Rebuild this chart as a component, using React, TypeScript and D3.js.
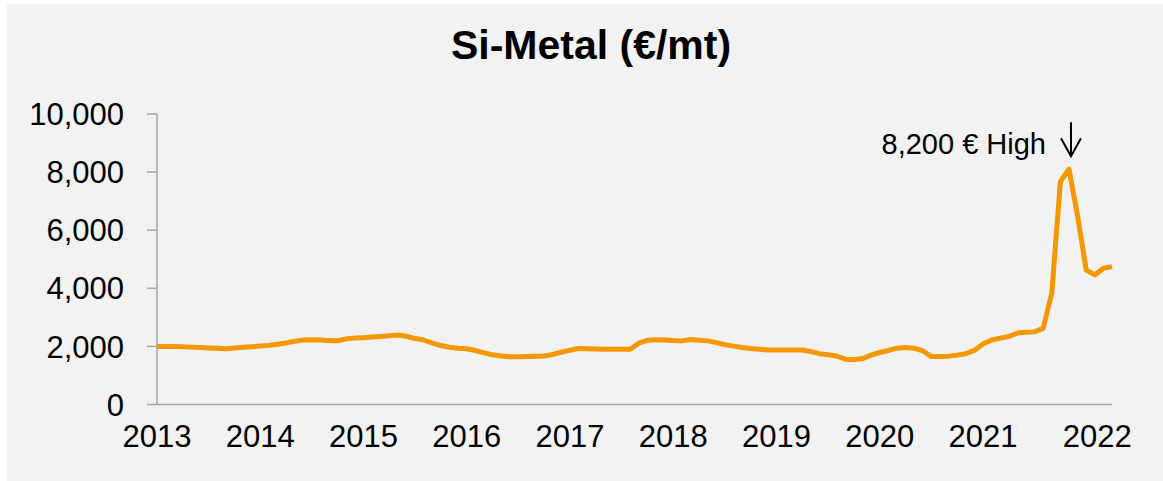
import React, { useEffect, useRef } from 'react';
import * as d3 from 'd3';

// monthly Si-Metal price, Jan 2013 .. Apr 2022 (€/mt)
const years = ['2013', '2014', '2015', '2016', '2017', '2018', '2019', '2020', '2021', '2022'];
const yTicks = [0, 2000, 4000, 6000, 8000, 10000];
const prices = [
  2000, 2000, 1995, 1990, 1975, 1960, 1945, 1935, 1920, 1945, 1970, 1990,
  2010, 2035, 2075, 2120, 2175, 2220, 2225, 2220, 2205, 2195, 2260, 2285,
  2300, 2320, 2340, 2365, 2390, 2350, 2270, 2220, 2110, 2030, 1970, 1940,
  1920, 1860, 1780, 1710, 1670, 1645, 1645, 1655, 1660, 1670, 1720, 1800,
  1870, 1930, 1920, 1910, 1905, 1900, 1900, 1900, 2110, 2210, 2225, 2220,
  2200, 2190, 2240, 2215, 2190, 2130, 2060, 2010, 1960, 1925, 1900, 1880,
  1875, 1875, 1875, 1875, 1820, 1750, 1710, 1670, 1560, 1540, 1580, 1700,
  1790, 1860, 1940, 1960, 1940, 1850, 1650, 1655, 1665, 1700, 1750, 1860,
  2080, 2220, 2280, 2340, 2460, 2490, 2500, 2620, 3830, 7670, 8100, 6500,
  4630, 4460, 4690, 4745
];
const title = 'Si-Metal (€/mt)';
const highLabel = '8,200 € High';

export default function App() {
  const ref = useRef<SVGSVGElement>(null);

  useEffect(() => {
    const w = 1163;
    const h = 481;
    const left = 157;
    const right = 1112;
    const top = 114;
    const bottom = 404.5;
    const font = 'Liberation Sans, Arial, sans-serif';
    const svg = d3.select(ref.current);
    svg.selectAll('*').remove();

    // background panel
    svg.append('rect')
      .attr('x', 7).attr('y', 4)
      .attr('width', w - 7).attr('height', h - 4)
      .attr('fill', '#f2f2f2');

    svg.append('text')
      .attr('x', 591).attr('y', 59)
      .attr('text-anchor', 'middle')
      .style('font-family', font)
      .style('font-size', '41px')
      .style('font-weight', 'bold')
      .text(title);

    const x = d3.scaleLinear().domain([0, prices.length - 1]).range([left, right]);
    const y = d3.scaleLinear().domain([0, 10000]).range([bottom, top]);

    // y axis
    const yAxis = svg.append('g');
    yAxis.append('line')
      .attr('x1', left).attr('x2', left)
      .attr('y1', top).attr('y2', bottom)
      .attr('stroke', '#a6a6a6').attr('stroke-width', 1.5);
    const yt = yAxis.selectAll('g').data(yTicks).enter().append('g');
    yt.append('line')
      .attr('x1', left - 10).attr('x2', left)
      .attr('y1', d => y(d)).attr('y2', d => y(d))
      .attr('stroke', '#a6a6a6').attr('stroke-width', 1.5);
    yt.append('text')
      .attr('x', 124)
      .attr('y', d => y(d))
      .attr('dy', '0.36em')
      .attr('text-anchor', 'end')
      .style('font-family', font)
      .style('font-size', '31px')
      .text(d => d3.format(',')(d));

    // x axis
    svg.append('line')
      .attr('x1', left).attr('x2', right)
      .attr('y1', bottom).attr('y2', bottom)
      .attr('stroke', '#a6a6a6').attr('stroke-width', 1.5);
    svg.append('g').selectAll('text')
      .data(years).enter().append('text')
      .attr('x', (d, i) => x(i * 12) + (i === years.length - 1 ? 11 : 0))
      .attr('y', 447)
      .attr('text-anchor', 'middle')
      .style('font-family', font)
      .style('font-size', '31px')
      .text(d => d);

    // price line
    const line = d3.line<number>()
      .x((d, i) => x(i))
      .y(d => y(d));
    svg.append('path')
      .datum(prices)
      .attr('d', line)
      .attr('fill', 'none')
      .attr('stroke', '#f39800')
      .attr('stroke-width', 5)
      .attr('stroke-linejoin', 'round');

    // high annotation
    const peak = d3.maxIndex(prices);
    const px = x(peak) + 2;
    const py = y(prices[peak]);
    svg.append('path')
      .attr('d', `M${px},${py - 47}V${py - 13}M${px - 10},${py - 31}L${px},${py - 13}L${px + 10},${py - 31}`)
      .attr('fill', 'none')
      .attr('stroke', '#000')
      .attr('stroke-width', 2);
    svg.append('text')
      .attr('x', px - 25)
      .attr('y', py - 15)
      .attr('text-anchor', 'end')
      .style('font-family', font)
      .style('font-size', '29px')
      .text(highLabel);
  }, []);

  return (
    <div style={{ position: 'absolute', left: 0, top: 0 }}>
      <svg ref={ref} width={1163} height={481} style={{ display: 'block' }}></svg>
    </div>
  );
}
